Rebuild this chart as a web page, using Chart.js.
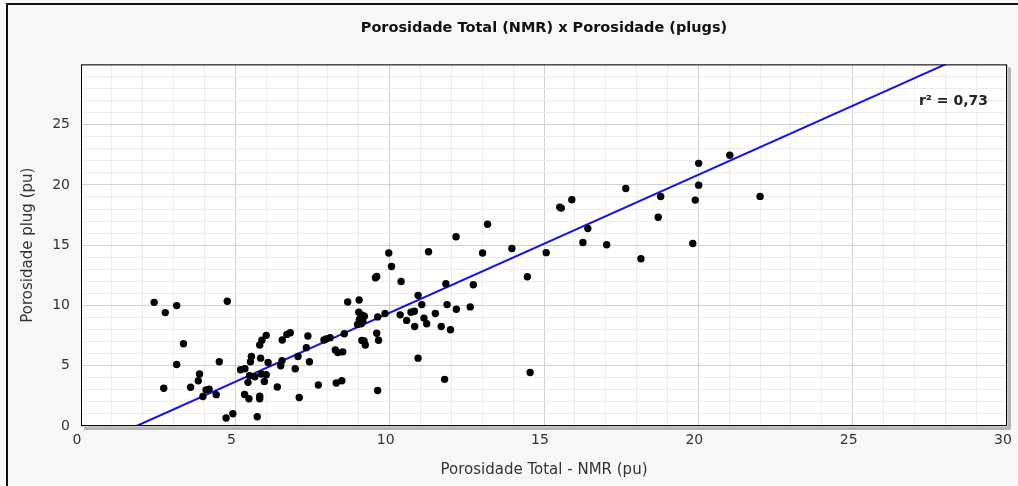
<!DOCTYPE html>
<html>
<head>
<meta charset="utf-8">
<title>Porosidade Total (NMR) x Porosidade (plugs)</title>
<script src="https://cdn.jsdelivr.net/npm/chart.js@4.4.1/dist/chart.umd.min.js"></script>
<style>
  html, body { margin: 0; padding: 0; background: #f7f7f7; }
  #wrap { width: 1018px; height: 486px; }
</style>
</head>
<body>
<div id="wrap"><canvas id="poroChart" width="1018" height="486"></canvas></div>
<script>
// Porosidade total NMR (pu) de cada amostra
const nmrTotal = [
    2.37, 2.73, 3.10, 4.74, 3.32, 3.10, 4.48, 2.68, 3.55, 3.84,
    3.80, 3.95, 4.05, 4.15, 4.38, 4.70, 4.92, 5.71, 5.17, 5.31,
    5.41, 5.30, 5.44, 5.79, 5.79, 5.52, 5.49, 5.82, 5.46, 5.63,
    5.84, 6.00, 5.94, 5.79, 5.86, 6.00, 6.06, 6.36, 6.47, 6.51,
    6.52, 6.67, 6.78, 6.94, 7.07, 7.03, 7.30, 7.35, 7.40, 7.69,
    7.87, 7.94, 8.07, 8.24, 8.32, 8.48, 8.27, 8.45, 8.53, 8.64,
    9.01, 9.00, 9.11, 9.18, 9.02, 9.13, 9.08, 8.96, 9.10, 9.17,
    9.21, 9.58, 9.54, 9.58, 9.64, 9.61, 9.61, 9.85, 9.97, 10.06,
    10.37, 10.34, 10.55, 10.69, 10.80, 10.81, 10.92, 11.04, 10.92, 11.11,
    11.20, 11.26, 11.48, 11.67, 11.82, 11.86, 11.78, 11.97, 12.16, 12.15,
    12.61, 12.71, 13.01, 13.17, 13.96, 14.46, 14.55, 15.07, 15.51, 15.56,
    15.90, 16.42, 16.26, 17.03, 17.65, 18.14, 18.70, 18.78, 19.82, 19.90,
    20.01, 20.01, 21.02, 22.00
];

// Porosidade medida em plug (pu), mesma ordem
const plugPoro = [
    10.26, 9.41, 9.99, 10.35, 6.83, 5.10, 5.33, 3.13, 3.21, 4.31,
    3.76, 2.45, 3.00, 3.05, 2.60, 0.66, 1.02, 0.77, 4.67, 4.75,
    3.62, 2.61, 2.26, 2.47, 2.26, 5.76, 5.33, 5.63, 4.17, 4.09,
    4.31, 4.25, 3.70, 6.72, 7.11, 7.52, 5.27, 3.24, 5.00, 5.41,
    7.14, 7.60, 7.74, 4.75, 2.36, 5.76, 6.50, 7.47, 5.33, 3.40,
    7.14, 7.22, 7.33, 6.31, 6.09, 6.15, 3.57, 3.76, 7.65, 10.29,
    10.45, 9.44, 9.20, 9.10, 8.84, 8.70, 8.48, 8.43, 7.10, 7.05,
    6.72, 12.40, 12.30, 7.69, 7.11, 2.94, 9.05, 9.33, 14.35, 13.23,
    11.99, 9.22, 8.76, 9.44, 9.52, 8.26, 10.84, 10.07, 5.63, 8.95,
    8.48, 14.46, 9.33, 8.26, 11.80, 10.07, 3.87, 7.98, 9.69, 15.70,
    9.88, 11.72, 14.35, 16.74, 14.73, 12.38, 4.44, 14.38, 18.16, 18.08,
    18.77, 16.38, 15.23, 15.04, 19.70, 13.88, 17.32, 19.04, 15.14, 18.74,
    21.79, 19.98, 22.47, 19.05
];

// Reta de regressão
const fitSlope = 1.145;
const fitIntercept = -2.06;
const fitR2 = '0,73';

const axisMin = 0;
const axisMax = 30;
const majorStep = 5;

const points = nmrTotal.map((x, i) => ({ x: x, y: plugPoro[i] }));
const fitLine = [
    { x: -fitIntercept / fitSlope, y: 0 },
    { x: axisMax, y: fitSlope * axisMax + fitIntercept }
];

const tickFont = { family: 'DejaVu Sans', size: 14 };
const titleFont = { family: 'DejaVu Sans', size: 15 };

// fundo, moldura, sombra da área de plotagem e rótulo do r²
const framePlugin = {
    id: 'frame',
    beforeDraw(chart) {
        const { ctx, chartArea: a, width, height } = chart;
        ctx.save();
        ctx.fillStyle = '#f7f7f7';
        ctx.fillRect(0, 0, width, height);
        ctx.fillStyle = '#111';
        ctx.fillRect(6, 3, 2, height - 3);
        ctx.fillRect(6, 3, width - 6, 2);
        ctx.fillStyle = '#b4b4b4';
        ctx.fillRect(a.left + 3, a.bottom, a.width, 4);
        ctx.fillRect(a.right, a.top + 3, 4, a.height);
        ctx.fillStyle = '#ffffff';
        ctx.fillRect(a.left, a.top, a.width, a.height);
        ctx.restore();
    },
    afterDraw(chart) {
        const { ctx, chartArea: a } = chart;
        ctx.save();
        ctx.strokeStyle = '#000';
        ctx.lineWidth = 1;
        ctx.strokeRect(a.left + 0.5, a.top + 0.5, a.width - 1, a.height - 1);
        ctx.font = 'bold 14px "DejaVu Sans"';
        ctx.fillStyle = '#222';
        ctx.textAlign = 'right';
        ctx.textBaseline = 'middle';
        ctx.fillText('r² = ' + fitR2, a.right - 19, a.top + 37);
        ctx.restore();
    }
};

const gridColor = c => (c.tick && c.tick.value % majorStep === 0) ? '#d0d0d0' : '#ececec';

const ctx = document.getElementById('poroChart').getContext('2d');
const poroChart = new Chart(ctx, {
    type: 'scatter',
    data: {
        datasets: [
            {
                label: 'Amostras',
                data: points,
                backgroundColor: '#000',
                borderWidth: 0,
                pointRadius: 3.7,
                order: 0
            },
            {
                type: 'line',
                label: 'Ajuste',
                data: fitLine,
                borderColor: '#1414f0',
                borderWidth: 2,
                pointRadius: 0,
                fill: false,
                order: 1
            }
        ]
    },
    options: {
        responsive: false,
        animation: false,
        layout: { padding: { left: 0, right: 11, top: 0, bottom: 0 } },
        plugins: {
            legend: { display: false },
            tooltip: { enabled: false },
            title: {
                display: true,
                fullSize: false,
                text: 'Porosidade Total (NMR) x Porosidade (plugs)',
                color: '#111',
                font: { family: 'DejaVu Sans', size: 14.5, weight: 'bold' },
                padding: { top: 20, bottom: 27 }
            }
        },
        scales: {
            x: {
                type: 'linear',
                min: axisMin,
                max: axisMax,
                afterFit(scale) {
                    scale.height = 60;
                    scale.paddingLeft = 0;
                    scale.paddingRight = 0;
                },
                border: { display: false },
                grid: { color: gridColor, drawTicks: false },
                ticks: {
                    stepSize: 1,
                    autoSkip: false,
                    maxRotation: 0,
                    padding: 6,
                    labelOffset: -4,
                    color: '#333',
                    font: tickFont,
                    callback: v => (v % majorStep === 0) ? v : ''
                },
                title: {
                    display: true,
                    text: 'Porosidade Total - NMR (pu)',
                    color: '#333',
                    font: titleFont,
                    padding: { top: 0, bottom: 7 }
                }
            },
            y: {
                type: 'linear',
                min: axisMin,
                max: axisMax,
                afterFit(scale) { scale.width = 81; },
                border: { display: false },
                grid: { color: gridColor, drawTicks: false },
                ticks: {
                    stepSize: 1,
                    autoSkip: false,
                    padding: 11,
                    color: '#333',
                    font: tickFont,
                    callback: v => (v % majorStep === 0 && v < axisMax) ? v : ''
                },
                title: {
                    display: true,
                    text: 'Porosidade plug (pu)',
                    color: '#333',
                    font: titleFont,
                    padding: { top: 19, bottom: 0 }
                }
            }
        }
    },
    plugins: [framePlugin]
});
</script>
</body>
</html>
